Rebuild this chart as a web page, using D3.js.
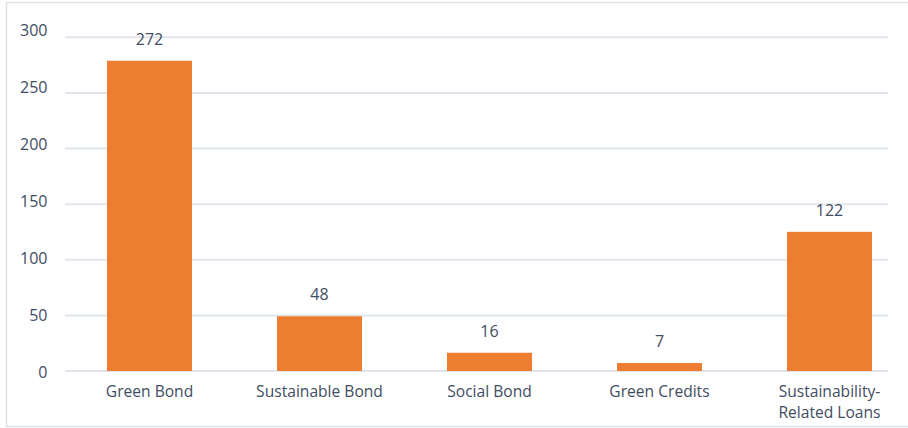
<!DOCTYPE html>
<html>
<head>
<meta charset="utf-8">
<script src="https://cdn.jsdelivr.net/npm/d3@7"></script>
<style>
  html, body { margin: 0; padding: 0; background: #ffffff; }
  svg { display: block; }
  text { font-family: "Open Sans", "Noto Sans", sans-serif; fill: #3f4d62; }
</style>
</head>
<body>
<svg id="chart" width="908" height="428"></svg>
<script>
// Sustainable finance instruments, counts by type
const categories = ["Green Bond", "Sustainable Bond", "Social Bond", "Green Credits", "Sustainability-Related Loans"];
const values = [272, 48, 16, 7, 122];
const yTicks = [0, 50, 100, 150, 200, 250, 300];

const svg = d3.select("#chart");
const W = 908;

// outer frame
svg.append("rect")
  .attr("x", 6.5).attr("y", 2.5)
  .attr("width", W).attr("height", 424)
  .attr("fill", "#ffffff")
  .attr("stroke", "#dde2e8")
  .attr("stroke-width", 1.5);

const gridLeft = 65, gridRight = 888;

// value scale for bars and tick labels
const y = d3.scaleLinear().domain([0, 300]).range([371, 28.8]);
// gridline band sits slightly compressed inside the plot
const yGrid = d3.scaleLinear().domain([0, 300]).range([371, 37.3]);

const x = d3.scaleBand()
  .domain(categories)
  .range([64.5, 914.5])
  .paddingInner(0.5)
  .paddingOuter(0.25);

// horizontal gridlines
svg.append("g")
  .selectAll("line")
  .data(yTicks)
  .join("line")
  .attr("x1", gridLeft).attr("x2", gridRight)
  .attr("y1", d => yGrid(d)).attr("y2", d => yGrid(d))
  .attr("stroke", "#e0e5eb")
  .attr("stroke-width", 2);

// y tick labels
svg.append("g")
  .selectAll("text")
  .data(yTicks)
  .join("text")
  .attr("x", 47.5)
  .attr("y", d => y(d) + 7)
  .attr("text-anchor", "end")
  .attr("font-size", 16)
  .text(d => d);

// bars
svg.append("g")
  .selectAll("rect")
  .data(values)
  .join("rect")
  .attr("x", (d, i) => x(categories[i]))
  .attr("width", x.bandwidth())
  .attr("y", d => y(d))
  .attr("height", d => y(0) - y(d))
  .attr("fill", "#ED7D31");

// value labels
svg.append("g")
  .selectAll("text")
  .data(values)
  .join("text")
  .attr("x", (d, i) => x(categories[i]) + x.bandwidth() / 2)
  .attr("y", d => y(d) - 16)
  .attr("text-anchor", "middle")
  .attr("font-size", 16)
  .text(d => d);

// category labels (wrapped after a hyphen)
const catG = svg.append("g");
categories.forEach(c => {
  const cut = c.indexOf("-");
  const parts = cut >= 0 ? [c.slice(0, cut + 1), c.slice(cut + 1)] : [c];
  const cx = x(c) + x.bandwidth() / 2;
  const t = catG.append("text")
    .attr("x", cx)
    .attr("y", 397)
    .attr("text-anchor", "middle")
    .attr("font-size", 15.6);
  parts.forEach((p, k) => {
    t.append("tspan")
      .attr("x", cx)
      .attr("dy", k === 0 ? 0 : 21)
      .text(p);
  });
});
</script>
</body>
</html>
